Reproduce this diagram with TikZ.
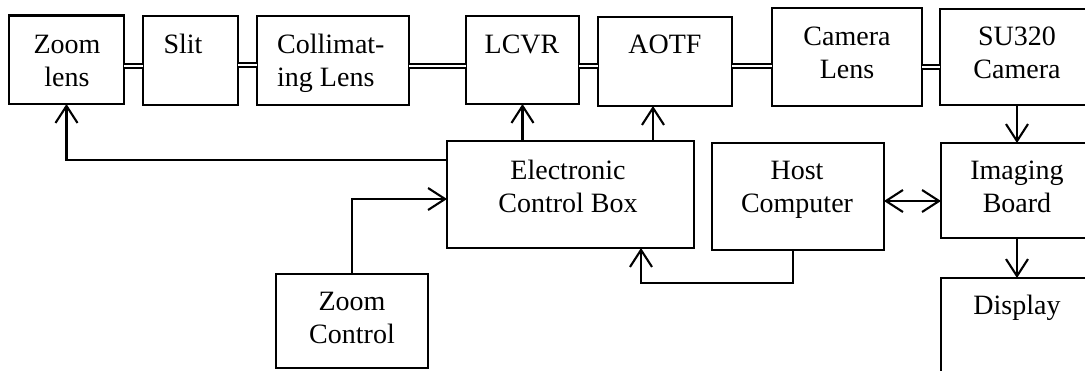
\documentclass[tikz,border=0pt]{standalone}
\usepackage{fontspec}
\setmainfont{Liberation Serif}
\usetikzlibrary{arrows.meta}
\begin{document}
\begin{tikzpicture}[x=1pt,y=-1pt,
  box/.style={draw, line width=2.1pt, inner sep=0pt, outer sep=0pt},
  lbl/.style={font=\fontsize{28}{33}\selectfont, align=center, anchor=base, inner sep=0pt},
  lblL/.style={font=\fontsize{28}{33}\selectfont, align=left, anchor=base west, inner sep=0pt},
  dbl/.style={double, double distance=2.5pt, line width=2pt},
  arr/.style={line width=2.1pt, -{Straight Barb[length=17pt,width=22pt]}},
  arrtwo/.style={line width=2.1pt, {Straight Barb[length=17pt,width=22pt]}-{Straight Barb[length=17pt,width=22pt]}}]
\useasboundingbox (0,0) rectangle (1085,370);
\fill[white] (0,0) rectangle (1085,370);
\clip (0,0) rectangle (1085,370);

% boxes
\node[box, minimum width=115pt, minimum height=88.5pt] (zl)   at (66.5,59.75) {};
\node[box, minimum width=95pt,  minimum height=89pt]   (slit) at (190.5,60.5) {};
\node[box, minimum width=152pt, minimum height=89pt]   (col)  at (333,60.5) {};
\node[box, minimum width=113pt, minimum height=88pt]   (lcvr) at (522.5,60) {};
\node[box, minimum width=134pt, minimum height=89pt]   (aotf) at (665,61.5) {};
\node[box, minimum width=150pt, minimum height=98pt]   (cl)   at (847,57) {};
\node[box, minimum width=154pt, minimum height=96pt]   (su)   at (1017,57) {};
\node[box, minimum width=247pt, minimum height=107pt]  (ecb)  at (570.5,194.5) {};
\node[box, minimum width=172pt, minimum height=107pt]  (host) at (798,196.5) {};
\node[box, minimum width=152pt, minimum height=95pt]   (ib)   at (1017,190.5) {};
\node[box, minimum width=152pt, minimum height=152pt]  (disp) at (1017,354) {};
\node[box, minimum width=152pt, minimum height=94pt]   (zc)   at (352,321) {};

% labels (two-line labels are placed by the baseline of their last line)
\node[lbl]  (zlt)   at (67,86)   {Zoom\\lens};
\node[lbl]  (slitt) at (183,53)  {Slit};
\node[lblL] (colt)  at (277,86)  {Collimat-\\ing Lens};
\node[lbl]  (lcvrt) at (522,53)  {LCVR};
\node[lbl]  (aotft) at (665,53)  {AOTF};
\node[lbl]  (clt)   at (847,78)  {Camera\\Lens};
\node[lbl]  (sut)   at (1017,78) {SU320\\Camera};
\node[lbl]  (ecbt)  at (568,212) {Electronic\\Control Box};
\node[lbl]  (hostt) at (797,212) {Host\\Computer};
\node[lbl]  (ibt)   at (1017,212) {Imaging\\Board};
\node[lbl]  (dispt) at (1017,314) {Display};
\node[lbl]  (zct)   at (352,343) {Zoom\\Control};

% optical path (double lines)
\draw[dbl] (zl.east |- 0,66)   -- (slit.west |- 0,66);
\draw[dbl] (slit.east |- 0,65) -- (col.west |- 0,65);
\draw[dbl] (col.east |- 0,66)  -- (lcvr.west |- 0,66);
\draw[dbl] (lcvr.east |- 0,66) -- (aotf.west |- 0,66);
\draw[dbl] (aotf.east |- 0,66) -- (cl.west |- 0,66);
\draw[dbl] (cl.east |- 0,67)   -- (su.west |- 0,67);

% control connectors
\coordinate (aotfin) at ([xshift=-12pt]aotf.south);
\coordinate (hostR) at ([yshift=-4.5pt]host.east);
\draw[arr] ([yshift=-19pt]ecb.north west) -| (zl.south);
\draw[arr] (ecb.north -| lcvr.south) -- (lcvr.south);
\draw[arr] (ecb.north -| aotfin) -- (aotfin);
\draw[arr] (zc.north) |- ([yshift=-4.5pt]ecb.west);
\draw[arr] ([xshift=-5pt]host.south) -- ++(0,33) -| ([xshift=70.5pt]ecb.south);
\draw[arrtwo] (hostR) -- (hostR -| ib.west);
\draw[arr] (su.south) -- (ib.north);
\draw[arr] (ib.south) -- (disp.north);
\end{tikzpicture}
\end{document}
